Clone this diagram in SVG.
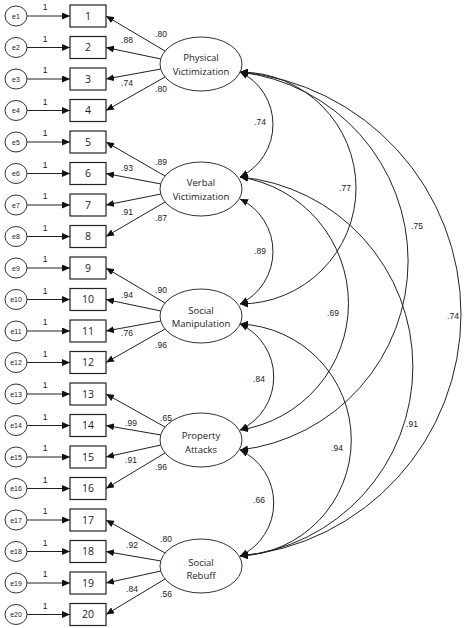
<svg xmlns="http://www.w3.org/2000/svg" width="474" height="628" viewBox="0 0 474 628">
<style>
.ln{stroke:#222;stroke-width:1;fill:none}
.ar{marker-end:url(#ah)}
.cv{stroke:#222;stroke-width:1;fill:none;marker-start:url(#ah);marker-end:url(#ah)}
.bx{fill:#fff;stroke:#222;stroke-width:1.2}
.el{fill:#fff;stroke:#333;stroke-width:1}
text{font-family:"Liberation Sans",Arial,sans-serif;fill:#222;text-anchor:middle}
.num{font-family:"Open Sans","Liberation Sans",sans-serif;font-size:10.5px}
.e{font-size:7px}
.one{font-size:8.5px}
.lab{font-size:8.5px}
.fac{font-family:"Open Sans","Liberation Sans",sans-serif;font-size:9.5px}
</style>
<defs>
<marker id="ah" markerUnits="userSpaceOnUse" markerWidth="8" markerHeight="7" viewBox="0 0 8 7" refX="8" refY="3.5" orient="auto-start-reverse">
<path d="M0,0 L8,3.5 L0,7 z" fill="#111"/>
</marker>
</defs>

<g id="connectors">
<g class="ln ar">
<line x1="27" y1="16" x2="70" y2="16"/>
<line x1="27" y1="47.5" x2="70" y2="47.5"/>
<line x1="27" y1="79" x2="70" y2="79"/>
<line x1="27" y1="110.5" x2="70" y2="110.5"/>
<line x1="27" y1="142" x2="70" y2="142"/>
<line x1="27" y1="173.5" x2="70" y2="173.5"/>
<line x1="27" y1="205" x2="70" y2="205"/>
<line x1="27" y1="236.5" x2="70" y2="236.5"/>
<line x1="27" y1="268" x2="70" y2="268"/>
<line x1="27" y1="299.5" x2="70" y2="299.5"/>
<line x1="27" y1="331" x2="70" y2="331"/>
<line x1="27" y1="362.5" x2="70" y2="362.5"/>
<line x1="27" y1="394" x2="70" y2="394"/>
<line x1="27" y1="425.5" x2="70" y2="425.5"/>
<line x1="27" y1="457" x2="70" y2="457"/>
<line x1="27" y1="488.5" x2="70" y2="488.5"/>
<line x1="27" y1="520" x2="70" y2="520"/>
<line x1="27" y1="551.5" x2="70" y2="551.5"/>
<line x1="27" y1="583" x2="70" y2="583"/>
<line x1="27" y1="614.5" x2="70" y2="614.5"/>
</g>
<g class="ln ar">
<line x1="165" y1="51" x2="106" y2="16"/>
<line x1="161" y1="59" x2="106" y2="47.5"/>
<line x1="161" y1="69" x2="106" y2="79"/>
<line x1="165" y1="77" x2="106" y2="110.5"/>
<line x1="165" y1="176" x2="106" y2="142"/>
<line x1="161" y1="184" x2="106" y2="173.5"/>
<line x1="161" y1="194" x2="106" y2="205"/>
<line x1="165" y1="202" x2="106" y2="236.5"/>
<line x1="165" y1="303" x2="106" y2="268"/>
<line x1="161" y1="311" x2="106" y2="299.5"/>
<line x1="161" y1="321" x2="106" y2="331"/>
<line x1="165" y1="329" x2="106" y2="362.5"/>
<line x1="165" y1="427" x2="106" y2="394"/>
<line x1="161" y1="435" x2="106" y2="425.5"/>
<line x1="161" y1="445" x2="106" y2="457"/>
<line x1="165" y1="453" x2="106" y2="488.5"/>
<line x1="165" y1="553" x2="106" y2="520"/>
<line x1="161" y1="561" x2="106" y2="551.5"/>
<line x1="161" y1="571" x2="106" y2="583"/>
<line x1="165" y1="579" x2="106" y2="614.5"/>
</g>
<path class="cv" d="M240,72 A58.3,58.3 0 0 1 240,177"/>
<path class="cv" d="M240,199 A58.3,58.3 0 0 1 240,304"/>
<path class="cv" d="M240,324 A58.5,58.5 0 0 1 240,430"/>
<path class="cv" d="M240,450 A58.5,58.5 0 0 1 240,556"/>
<path class="cv" d="M240,72 A116,116 0 0 1 240,304"/>
<path class="cv" d="M240,177 A128,128 0 0 1 240,430"/>
<path class="cv" d="M240,324 A116.1,116.1 0 0 1 240,556"/>
<path class="cv" d="M240,72 A190.3,190.3 0 0 1 240,450"/>
<path class="cv" d="M240,177 A190.3,190.3 0 0 1 240,556"/>
<path class="cv" d="M240,72 A243,243 0 0 1 240,556"/>
</g>

<g id="one-labels" class="one">
<text x="45" y="10">1</text><text x="45" y="41.5">1</text><text x="45" y="73">1</text><text x="45" y="104.5">1</text>
<text x="45" y="136">1</text><text x="45" y="167.5">1</text><text x="45" y="199">1</text><text x="45" y="230.5">1</text>
<text x="45" y="262">1</text><text x="45" y="293.5">1</text><text x="45" y="325">1</text><text x="45" y="356.5">1</text>
<text x="45" y="388">1</text><text x="45" y="419.5">1</text><text x="45" y="451">1</text><text x="45" y="482.5">1</text>
<text x="45" y="514">1</text><text x="45" y="545.5">1</text><text x="45" y="577">1</text><text x="45" y="608.5">1</text>
</g>

<g id="loading-labels" class="lab">
<text x="161" y="37">.80</text><text x="127" y="43">.88</text><text x="127" y="86">.74</text><text x="161" y="92">.80</text>
<text x="161" y="165">.89</text><text x="127" y="171">.93</text><text x="127" y="215">.91</text><text x="161" y="221">.87</text>
<text x="161" y="293">.90</text><text x="127" y="298">.94</text><text x="127" y="336">.76</text><text x="161" y="348">.96</text>
<text x="166" y="421">.65</text><text x="131" y="426">.99</text><text x="131" y="463">.91</text><text x="161" y="470">.96</text>
<text x="166" y="542">.80</text><text x="132" y="548">.92</text><text x="132" y="592">.84</text><text x="166" y="597">.56</text>
</g>

<g id="cov-labels" class="lab">
<text x="260" y="125">.74</text>
<text x="260" y="254">.89</text>
<text x="259" y="382">.84</text>
<text x="259" y="503">.66</text>
<text x="345" y="191">.77</text>
<text x="333" y="316">.69</text>
<text x="417" y="229">.75</text>
<text x="412" y="427">.91</text>
<text x="337" y="451">.94</text>
<text x="453" y="319">.74</text>
</g>

<g id="e1"><ellipse class="el" cx="16" cy="16" rx="11" ry="10"/><text class="e" x="16" y="18.5">e1</text></g>
<g id="e2"><ellipse class="el" cx="16" cy="47.5" rx="11" ry="10"/><text class="e" x="16" y="50">e2</text></g>
<g id="e3"><ellipse class="el" cx="16" cy="79" rx="11" ry="10"/><text class="e" x="16" y="81.5">e3</text></g>
<g id="e4"><ellipse class="el" cx="16" cy="110.5" rx="11" ry="10"/><text class="e" x="16" y="113">e4</text></g>
<g id="e5"><ellipse class="el" cx="16" cy="142" rx="11" ry="10"/><text class="e" x="16" y="144.5">e5</text></g>
<g id="e6"><ellipse class="el" cx="16" cy="173.5" rx="11" ry="10"/><text class="e" x="16" y="176">e6</text></g>
<g id="e7"><ellipse class="el" cx="16" cy="205" rx="11" ry="10"/><text class="e" x="16" y="207.5">e7</text></g>
<g id="e8"><ellipse class="el" cx="16" cy="236.5" rx="11" ry="10"/><text class="e" x="16" y="239">e8</text></g>
<g id="e9"><ellipse class="el" cx="16" cy="268" rx="11" ry="10"/><text class="e" x="16" y="270.5">e9</text></g>
<g id="e10"><ellipse class="el" cx="16" cy="299.5" rx="11" ry="10"/><text class="e" x="16" y="302">e10</text></g>
<g id="e11"><ellipse class="el" cx="16" cy="331" rx="11" ry="10"/><text class="e" x="16" y="333.5">e11</text></g>
<g id="e12"><ellipse class="el" cx="16" cy="362.5" rx="11" ry="10"/><text class="e" x="16" y="365">e12</text></g>
<g id="e13"><ellipse class="el" cx="16" cy="394" rx="11" ry="10"/><text class="e" x="16" y="396.5">e13</text></g>
<g id="e14"><ellipse class="el" cx="16" cy="425.5" rx="11" ry="10"/><text class="e" x="16" y="428">e14</text></g>
<g id="e15"><ellipse class="el" cx="16" cy="457" rx="11" ry="10"/><text class="e" x="16" y="459.5">e15</text></g>
<g id="e16"><ellipse class="el" cx="16" cy="488.5" rx="11" ry="10"/><text class="e" x="16" y="491">e16</text></g>
<g id="e17"><ellipse class="el" cx="16" cy="520" rx="11" ry="10"/><text class="e" x="16" y="522.5">e17</text></g>
<g id="e18"><ellipse class="el" cx="16" cy="551.5" rx="11" ry="10"/><text class="e" x="16" y="554">e18</text></g>
<g id="e19"><ellipse class="el" cx="16" cy="583" rx="11" ry="10"/><text class="e" x="16" y="585.5">e19</text></g>
<g id="e20"><ellipse class="el" cx="16" cy="614.5" rx="11" ry="10"/><text class="e" x="16" y="617">e20</text></g>

<g id="v1"><rect class="bx" x="70" y="5" width="36" height="22"/><text class="num" x="88" y="19.5">1</text></g>
<g id="v2"><rect class="bx" x="70" y="36.5" width="36" height="22"/><text class="num" x="88" y="51">2</text></g>
<g id="v3"><rect class="bx" x="70" y="68" width="36" height="22"/><text class="num" x="88" y="82.5">3</text></g>
<g id="v4"><rect class="bx" x="70" y="99.5" width="36" height="22"/><text class="num" x="88" y="114">4</text></g>
<g id="v5"><rect class="bx" x="70" y="131" width="36" height="22"/><text class="num" x="88" y="145.5">5</text></g>
<g id="v6"><rect class="bx" x="70" y="162.5" width="36" height="22"/><text class="num" x="88" y="177">6</text></g>
<g id="v7"><rect class="bx" x="70" y="194" width="36" height="22"/><text class="num" x="88" y="208.5">7</text></g>
<g id="v8"><rect class="bx" x="70" y="225.5" width="36" height="22"/><text class="num" x="88" y="240">8</text></g>
<g id="v9"><rect class="bx" x="70" y="257" width="36" height="22"/><text class="num" x="88" y="271.5">9</text></g>
<g id="v10"><rect class="bx" x="70" y="288.5" width="36" height="22"/><text class="num" x="88" y="303">10</text></g>
<g id="v11"><rect class="bx" x="70" y="320" width="36" height="22"/><text class="num" x="88" y="334.5">11</text></g>
<g id="v12"><rect class="bx" x="70" y="351.5" width="36" height="22"/><text class="num" x="88" y="366">12</text></g>
<g id="v13"><rect class="bx" x="70" y="383" width="36" height="22"/><text class="num" x="88" y="397.5">13</text></g>
<g id="v14"><rect class="bx" x="70" y="414.5" width="36" height="22"/><text class="num" x="88" y="429">14</text></g>
<g id="v15"><rect class="bx" x="70" y="446" width="36" height="22"/><text class="num" x="88" y="460.5">15</text></g>
<g id="v16"><rect class="bx" x="70" y="477.5" width="36" height="22"/><text class="num" x="88" y="492">16</text></g>
<g id="v17"><rect class="bx" x="70" y="509" width="36" height="22"/><text class="num" x="88" y="523.5">17</text></g>
<g id="v18"><rect class="bx" x="70" y="540.5" width="36" height="22"/><text class="num" x="88" y="555">18</text></g>
<g id="v19"><rect class="bx" x="70" y="572" width="36" height="22"/><text class="num" x="88" y="586.5">19</text></g>
<g id="v20"><rect class="bx" x="70" y="603.5" width="36" height="22"/><text class="num" x="88" y="618">20</text></g>

<g id="physical"><ellipse class="el" cx="201" cy="64" rx="41" ry="27"/><text class="fac" x="201" y="61">Physical</text><text class="fac" x="201" y="75">Victimization</text></g>
<g id="verbal"><ellipse class="el" cx="201" cy="189" rx="41" ry="27"/><text class="fac" x="201" y="186">Verbal</text><text class="fac" x="201" y="200">Victimization</text></g>
<g id="social-manipulation"><ellipse class="el" cx="201" cy="316" rx="41" ry="27"/><text class="fac" x="201" y="314">Social</text><text class="fac" x="201" y="327">Manipulation</text></g>
<g id="property-attacks"><ellipse class="el" cx="201" cy="440" rx="41" ry="27"/><text class="fac" x="201" y="439">Property</text><text class="fac" x="201" y="453">Attacks</text></g>
<g id="social-rebuff"><ellipse class="el" cx="201" cy="566" rx="41" ry="27"/><text class="fac" x="201" y="566">Social</text><text class="fac" x="201" y="579">Rebuff</text></g>
</svg>
